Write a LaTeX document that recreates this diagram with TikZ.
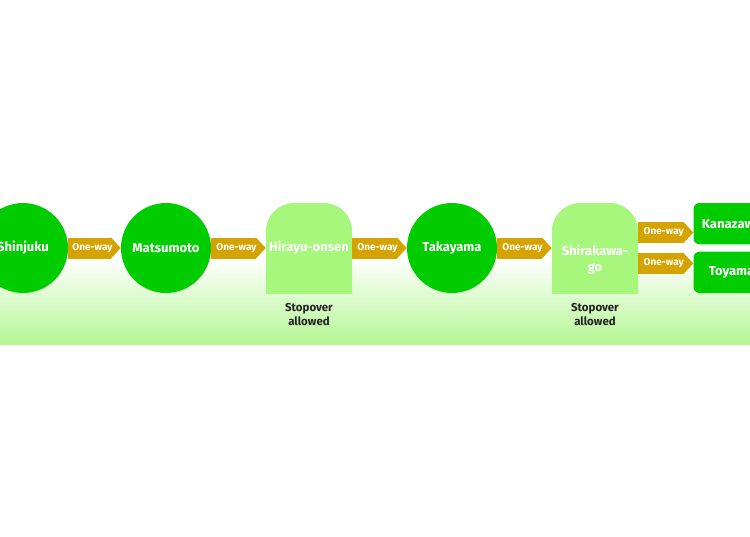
\documentclass[tikz,border=0pt]{standalone}
\usepackage{fontspec}
\setmainfont{Fira Sans}
\usetikzlibrary{arrows.meta}
\usetikzlibrary{positioning}
\definecolor{stationgreen}{RGB}{0,204,0}
\definecolor{stopgreen}{RGB}{166,247,124}
\definecolor{bandgreen}{RGB}{180,246,148}
\definecolor{onewaygold}{RGB}{212,163,0}
\definecolor{notegray}{RGB}{34,34,34}
\tikzset{
    station/.style={
           circle,
           fill=stationgreen,
           minimum size=67.5pt,
           inner sep=0pt,
           text=white,
           font=\bfseries\fontsize{9.75}{12}\selectfont,
           },
    stopover/.style={
           rectangle,
           minimum width=64.5pt,
           minimum height=67.5pt,
           inner sep=0pt,
           text=white,
           font=\bfseries\fontsize{9.75}{12}\selectfont,
           path picture={
             \fill[stopgreen, rounded corners=21pt]
               ([yshift=-25pt]path picture bounding box.south west) rectangle
               (path picture bounding box.north east);
           },
           },
    terminal/.style={
           rectangle,
           rounded corners=4.5pt,
           fill=stationgreen,
           minimum width=57pt,
           minimum height=31pt,
           inner sep=0pt,
           text=white,
           font=\bfseries\fontsize{9.75}{12}\selectfont,
           },
    stationtext/.style={
           text=white,
           inner sep=0pt,
           font=\bfseries\fontsize{9.75}{12}\selectfont,
           },
    oneway/.style={
           draw=onewaygold,
           line width=15.75pt,
           -{Triangle[length=7.5pt,width=0pt 1]},
           },
    onewaytext/.style={
           text=white,
           inner sep=0pt,
           xshift=-1.5pt,
           font=\bfseries\fontsize{7.5}{8}\selectfont,
           },
    notetext/.style={
           text=notegray,
           align=center,
           inner sep=0pt,
           font=\bfseries\fontsize{8.6}{10.5}\selectfont,
           },
}

\begin{document}
\begin{tikzpicture}
  \useasboundingbox (0,0) rectangle (562.5pt,-402pt);
  \clip (0,0) rectangle (562.5pt,-402pt);
  % green band under the line
  \shade[top color=white, bottom color=bandgreen]
    (0,-193.5pt) rectangle (562.5pt,-258pt);

  \node[station] (Shin) at (17.25pt,-186pt) {Shinjuku};
  \node[station,
 right of=Shin,
 node distance=107.25pt] (Mat) {Matsumoto};
  \node[stopover,
 right of=Mat,
 node distance=107.25pt,
 label={[notetext,label distance=7pt]below:{Stopover\\allowed}}] (Hir) {Hirayu-onsen};
  \node[station,
 right of=Hir,
 node distance=107.25pt] (Tak) {Takayama};
  \node[stopover,
 right of=Tak,
 node distance=107.25pt,
 label={[notetext,label distance=7pt]below:{Stopover\\allowed}}] (Shr) {};
  \node[stationtext,
 align=center,
 anchor=north] (ShrName) at ([yshift=2.25pt]Shr.center) {Shirakawa-\\go};
  \node[terminal,
 anchor=north west] (Kan) at ([xshift=41.25pt]Shr.north east) {Kanazawa};
  \node[terminal,
 anchor=south west] (Toy) at ([xshift=41.25pt]Shr.south east) {Toyama};

  \coordinate (ShrUp) at ([yshift=11.6pt]Shr.east);
  \coordinate (ShrDown) at ([yshift=-11.6pt]Shr.east);

\path 
  (Shin.east) edge[oneway]
    node[onewaytext] {One-way}
    (Mat.west)
  (Mat.east) edge[oneway]
    node[onewaytext] {One-way}
    (Hir.west)
  (Hir.east) edge[oneway]
    node[onewaytext] {One-way}
    (Tak.west)
  (Tak.east) edge[oneway]
    node[onewaytext] {One-way}
    (Shr.west)
  (ShrUp) edge[oneway]
    node[onewaytext] {One-way}
    (ShrUp -| Kan.west)
  (ShrDown) edge[oneway]
    node[onewaytext] {One-way}
    (ShrDown -| Toy.west)
 ;
\end{tikzpicture}
\end{document}
